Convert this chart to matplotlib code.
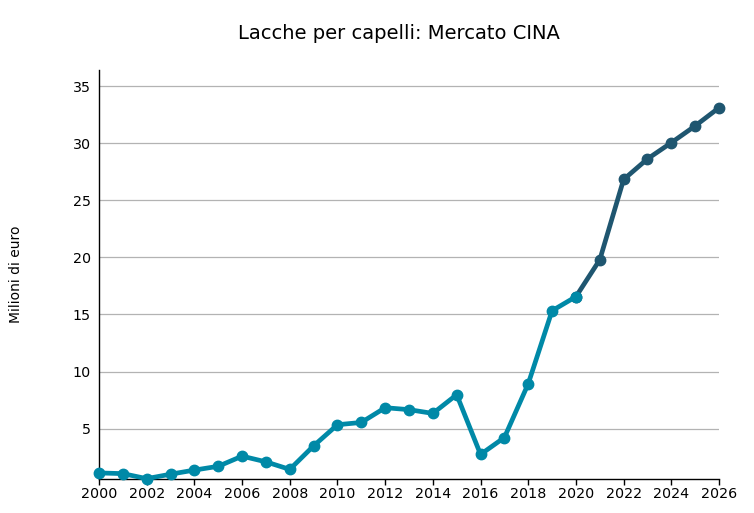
import matplotlib
matplotlib.use("Agg")
import matplotlib.pyplot as plt

years_hist = [2000, 2001, 2002, 2003, 2004, 2005, 2006, 2007, 2008, 2009, 2010,
              2011, 2012, 2013, 2014, 2015, 2016, 2017, 2018, 2019, 2020]
values_hist = [1.13, 1.07, 0.63, 1.02, 1.38, 1.71, 2.60, 2.10, 1.44, 3.50, 5.35,
               5.55, 6.84, 6.67, 6.34, 7.98, 2.75, 4.23, 8.94, 15.33, 16.56]
years_fc = [2020, 2021, 2022, 2023, 2024, 2025, 2026]
values_fc = [16.56, 19.79, 26.82, 28.62, 30.04, 31.51, 33.10]

title = "Lacche per capelli: Mercato CINA"
ylabel = "Milioni di euro"
xticks = list(range(2000, 2027, 2))
yticks = [5, 10, 15, 20, 25, 30, 35]

fig = plt.figure(figsize=(7.54, 5.13), dpi=100)
ax = fig.add_axes([0.1313, 0.0663, 0.8223, 0.7972])

ax.plot(years_fc, values_fc, color="#1f5670", lw=3.4, marker="o", ms=7.5,
        solid_capstyle="round", zorder=3, clip_on=False)
ax.plot(years_hist, values_hist, color="#0089a7", lw=3.4, marker="o", ms=7.5,
        solid_capstyle="round", zorder=4, clip_on=False)

ax.set_xlim(2000, 2026)
ax.set_ylim(0.6, 36.4)
ax.set_xticks(xticks)
ax.set_yticks(yticks)
ax.tick_params(axis="x", length=4, width=1, labelsize=10.3, pad=2)
ax.tick_params(axis="y", length=0, labelsize=10.3, pad=6)
ax.grid(axis="y", color="#b3b3b3", lw=0.9)
ax.set_axisbelow(True)
for s in ["top", "right"]:
    ax.spines[s].set_visible(False)
for s in ["left", "bottom"]:
    ax.spines[s].set_color("black")
    ax.spines[s].set_linewidth(1)

fig.text(0.021, 0.465, ylabel, rotation=90, va="center", ha="center", fontsize=10)
fig.text(0.529, 0.934, title, ha="center", va="center", fontsize=14)

fig.savefig("out.png", dpi=100)
